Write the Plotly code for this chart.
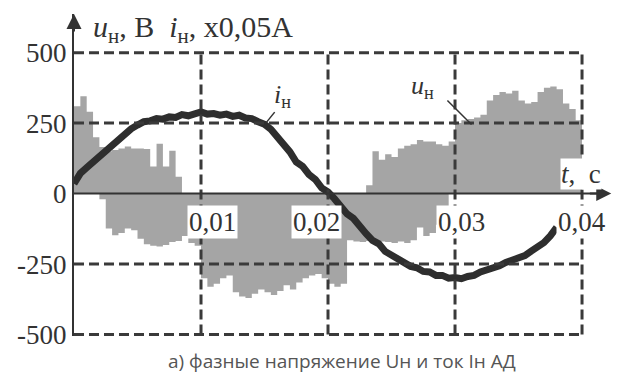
import plotly.graph_objects as go

# ---------------- data (time in ms) ----------------
t_volt = [0, 0.5, 1, 1.5, 2, 2.5, 3, 3.5, 4, 4.5, 5, 5.5, 6, 6.5, 7, 7.5, 8, 8.5, 9, 9.5,
          10, 10.5, 11, 11.5, 12, 12.5, 13, 13.5, 14, 14.5, 15, 15.5, 16, 16.5, 17, 17.5, 18, 18.5, 19, 19.5,
          20, 20.5, 21, 21.5, 22, 22.5, 23, 23.5, 24, 24.5, 25, 25.5, 26, 26.5, 27, 27.5, 28, 28.5, 29, 29.5,
          30, 30.5, 31, 31.5, 32, 32.5, 33, 33.5, 34, 34.5, 35, 35.5, 36, 36.5, 37, 37.5, 38, 38.5, 39, 39.5, 40]

u_upper = [310, 345, 290, 200, 165, 150, 155, 160, 167, 160, 160, 158, 96, 177, 96, 152, 60, 0, 0, 0,
           0, 0, 0, 0, 0, 0, 0, 0, 0, 0, 0, 0, 0, 0, 0, 0, 0, 0, 0, 0,
           0, 0, 0, 0, 0, 0, 30, 150, 120, 140, 130, 160, 170, 175, 190, 185, 185, 175, 170, 185,
           250, 260, 265, 270, 280, 330, 350, 360, 355, 365, 330, 320, 325, 360, 375, 380, 370, 320, 300, 260, 0]

u_lower = [0, 0, 0, 0, -20, -124, -148, -140, -124, -130, -160, -180, -185, -188, -182, -172, -168, -150, -175, -185,
           -300, -330, -320, -300, -290, -350, -365, -370, -355, -340, -350, -360, -345, -325, -340, -315, -300, -290, -285, -300,
           -320, -330, -320, -165, -170, -172, -168, -175, -170, -172, -175, -170, -175, -165, -120, -150, -140, -110, -60, 0,
           0, 0, 0, 0, 0, 0, 0, 0, 0, 0, 0, 0, 0, 0, 0, 0, 0, 0, 0, 0, 0]

t_cur = [0, 0.5, 1, 1.5, 2, 2.5, 3, 3.5, 4, 4.5, 5, 5.5, 6, 6.5, 7, 7.5, 8, 8.5, 9, 9.5, 10, 10.5, 11, 11.5, 12,
         12.5, 13, 13.5, 14, 14.5, 15, 15.5, 16, 16.5, 17, 17.5, 18, 18.5, 19, 19.5, 20, 20.5, 21, 21.5, 22,
         22.5, 23, 23.5, 24, 24.5, 25, 25.5, 26, 26.5, 27, 27.5, 28, 28.5, 29, 29.5, 30, 30.5, 31, 31.5, 32,
         32.5, 33, 33.5, 34, 34.5, 35, 35.5, 36, 36.5, 37, 37.5, 38]
i_cur = [35, 72, 92, 112, 128, 152, 168, 194, 208, 230, 243, 255, 258, 266, 264, 272, 270, 280, 276, 286, 290, 282, 284, 278, 282,
         274, 278, 268, 266, 255, 246, 228, 202, 172, 148, 112, 97, 68, 50, 20, 6, -18, -44, -72, -88,
         -120, -142, -166, -178, -205, -218, -238, -244, -258, -263, -276, -278, -290, -290, -300, -298, -302, -294, -290, -278,
         -272, -262, -256, -244, -238, -226, -220, -204, -192, -174, -150, -120]

y_ticks = [500, 250, 0, -250, -500]
y_ticktext = ["500", "250", "0", "-250", "-500"]
x_ticks = [10, 20, 30, 40]
x_ticktext = ["0,01", "0,02", "0,03", "0,04"]

# ---------------- figure ----------------
GRAY = "#a5a5a5"
DARK = "#333333"
SERIF = "Liberation Serif"

fig = go.Figure()
fig.add_trace(go.Scatter(x=t_volt, y=u_upper, mode="lines", line=dict(width=0, shape="hv", color=GRAY),
                         fill="tozeroy", fillcolor=GRAY, hoverinfo="skip"))
fig.add_trace(go.Scatter(x=t_volt, y=u_lower, mode="lines", line=dict(width=0, shape="hv", color=GRAY),
                         fill="tozeroy", fillcolor=GRAY, hoverinfo="skip"))
fig.add_trace(go.Scatter(x=t_cur, y=i_cur, mode="lines", line=dict(width=7, color="#2e2e2e"),
                         hoverinfo="skip"))

shapes = []
grid = dict(color="#3a3a3a", width=3, dash="10px,5px")
for yv in [500, 250, -250, -500]:
    shapes.append(dict(type="line", xref="x", yref="y", x0=0, x1=40, y0=yv, y1=yv, line=grid, layer="above"))
for xv in x_ticks:
    shapes.append(dict(type="line", xref="x", yref="y", x0=xv, x1=xv, y0=-500, y1=500, line=grid, layer="above"))
# x axis line at zero
shapes.append(dict(type="line", xref="x", yref="y", x0=0, x1=41.5, y0=0, y1=0,
                   line=dict(color=DARK, width=2), layer="above"))
# leader lines of labels
shapes.append(dict(type="line", xref="x", yref="y", x0=15.8, y0=289, x1=15.1, y1=250,
                   line=dict(color=DARK, width=1.5), layer="above"))
shapes.append(dict(type="line", xref="x", yref="y", x0=29.4, y0=330, x1=31.3, y1=245,
                   line=dict(color=DARK, width=1.5), layer="above"))

ann = []
# arrows
ann.append(dict(x=0, y=637, ax=0, ay=570, xref="x", yref="y", axref="x", ayref="y", showarrow=True,
                arrowhead=2, arrowsize=1.5, arrowwidth=2, arrowcolor=DARK, text=""))
ann.append(dict(x=42.3, y=0, ax=40.5, ay=0, xref="x", yref="y", axref="x", ayref="y", showarrow=True,
                arrowhead=2, arrowsize=1.5, arrowwidth=2, arrowcolor=DARK, text=""))
# x tick labels on the zero line
xshifts = [11, -12, 6, 0]
for xv, lab, sh in zip(x_ticks, x_ticktext, xshifts):
    ann.append(dict(x=xv, y=-100, xref="x", yref="y", text=lab, showarrow=False, xshift=sh,
                    bgcolor="white", borderpad=1, font=dict(family=SERIF, size=27, color=DARK)))
# axis title
ann.append(dict(x=1.3, y=584, xref="x", yref="y", xanchor="left", yanchor="middle", showarrow=False,
                text="<i>u</i><sub>н</sub>, В\u00a0\u00a0<i>i</i><sub>н</sub>, x0,05А",
                font=dict(family=SERIF, size=30, color=DARK)))
# curve labels
ann.append(dict(x=15.6, y=345, xref="x", yref="y", xanchor="left", yanchor="middle", showarrow=False,
                text="<i>i</i><sub>н</sub>", font=dict(family=SERIF, size=26, color=DARK)))
ann.append(dict(x=26.4, y=378, xref="x", yref="y", xanchor="left", yanchor="middle", showarrow=False,
                text="<i>u</i><sub>н</sub>", font=dict(family=SERIF, size=26, color=DARK)))
ann.append(dict(x=38.3, y=70, xref="x", yref="y", xanchor="left", yanchor="middle", showarrow=False,
                text="<i>t</i>,\u00a0\u00a0c", bgcolor="white", borderpad=0,
                font=dict(family=SERIF, size=27, color=DARK)))
# caption
ann.append(dict(x=0.498, y=-0.078, xref="paper", yref="paper", xanchor="center", yanchor="middle",
                showarrow=False, text="а) фазные напряжение Uн и ток Iн АД",
                font=dict(family="Open Sans", size=19, color="#555555")))

fig.update_layout(
    width=618, height=373,
    margin=dict(l=74, r=6, t=14, b=37),
    paper_bgcolor="white", plot_bgcolor="white",
    showlegend=False,
    shapes=shapes, annotations=ann,
    xaxis=dict(range=[0, 42.36], showgrid=False, zeroline=False, showline=False,
               showticklabels=False, ticks=""),
    yaxis=dict(range=[-505, 637], showgrid=False, zeroline=False, showline=True, linecolor=DARK, linewidth=2,
               tickvals=y_ticks, ticktext=y_ticktext, ticks="",
               tickfont=dict(family=SERIF, size=27, color=DARK)),
)

fig.write_html("out.html", config={"displayModeBar": False},
               post_script="document.body.style.margin='0px';")
